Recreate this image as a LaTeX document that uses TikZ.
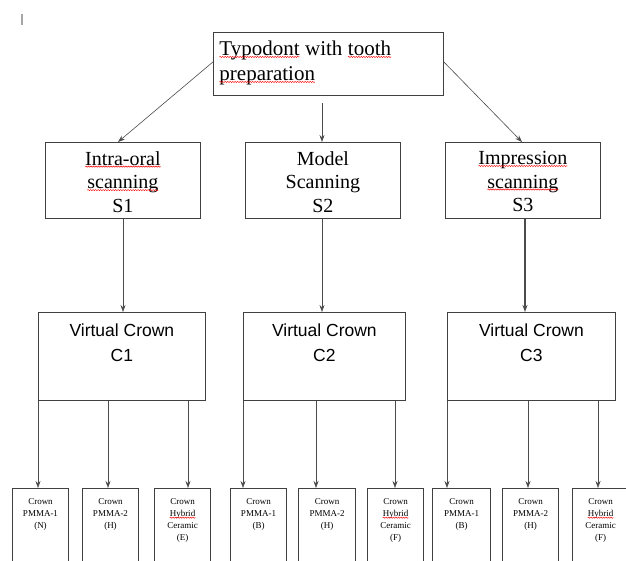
\documentclass[tikz,border=0pt]{standalone}
\usepackage{fontspec}
\setmainfont{Liberation Serif}
\newfontfamily\vcfont{Liberation Sans}
\usetikzlibrary{arrows.meta,decorations.pathmorphing}
\newcommand{\sq}[1]{\tikz[baseline=(sqw.base),x=1cm,y=1cm]{\node[inner sep=0pt,outer sep=0pt,draw=none,fill=none,minimum width=0pt,minimum height=0pt] (sqw) {#1};\draw[red,line width=0.5pt,decorate,decoration={snake,amplitude=0.6pt,segment length=2.5pt}] ([yshift=-1.2pt]sqw.base west) -- ([yshift=-1.2pt]sqw.base east);}}
\begin{document}
\begin{tikzpicture}[x=1pt,y=-1pt,
  box/.style={draw=black!75,line width=0.8pt,inner sep=0pt,fill=white},
  arr/.style={draw=black!70,line width=0.6pt,-{Stealth[length=7pt,width=5pt]}},
  big/.style={font=\fontsize{20}{23.5}\selectfont,align=center},
  vc/.style={font=\vcfont\fontsize{17.5}{25}\selectfont,align=center},
  small/.style={font=\fontsize{9}{12}\selectfont,align=center,anchor=north}]
\useasboundingbox[fill=white] (0,0) rectangle (626,560);
\draw[gray!70,line width=1.2pt] (22,14) -- (22,25);
% top box
\node[box,minimum width=230pt,minimum height=63pt,anchor=north west] (top) at (213,32) {};
\node[anchor=north west,font=\fontsize{21}{25}\selectfont,align=left,inner sep=0pt] (toptext) at (219,41) {\sq{Typodont} with \sq{tooth}\\\sq{preparation}};
% level 2
\node[box,minimum width=155pt,minimum height=76pt,anchor=north west] (s1) at (45,142) {};
\node[box,minimum width=155pt,minimum height=76pt,anchor=north west] (s2) at (245,142) {};
\node[box,minimum width=155pt,minimum height=76pt,anchor=north west] (s3) at (445,142) {};
\node[big,anchor=north] (s1t) at (s1.north) [yshift=-6pt] {\sq{Intra-oral}\\\sq{scanning}\\S1};
\node[big,anchor=north] (s2t) at (s2.north) [yshift=-6pt] {Model\\Scanning\\S2};
\node[big,anchor=north] (s3t) at (s3.north) [yshift=-6pt] {\sq{Impression}\\\sq{scanning}\\S3};
% level 3
\node[box,minimum width=167pt,minimum height=88pt,anchor=north west] (c1) at (38,312) {};
\node[box,minimum width=162pt,minimum height=88pt,anchor=north west] (c2) at (243,312) {};
\node[box,minimum width=168pt,minimum height=88pt,anchor=north west] (c3) at (447,312) {};
\node[vc,anchor=north] (c1t) at (c1.north) [yshift=-8pt] {Virtual Crown\\C1};
\node[vc,anchor=north] (c2t) at (c2.north) [yshift=-8pt] {Virtual Crown\\C2};
\node[vc,anchor=north] (c3t) at (c3.north) [yshift=-8pt] {Virtual Crown\\C3};
% arrows top -> level 2
\draw[arr] (top.west) ++(0,-2) coordinate (tw) -- (s1.north -| 118,0);
\coordinate (tb) at (322,103);
\draw[arr] (tb) -- (s2.north -| tb);
\draw[arr] (top.east) ++(0,-2) coordinate (te) -- (s3.north -| 522,0);
% level 2 -> level 3
\draw[arr] (s1.south -| 123,0) -- (c1.north -| 123,0);
\draw[arr] (s2.south -| 322,0) -- (c2.north -| 322,0);
\draw[arr,line width=1.1pt] (s3.south -| 525,0) -- (c3.north -| 525,0);
% bottom boxes
\foreach \n/\x/\w in {b1/12/56,b2/82/56,b3/154/56,b4/230/56,b5/298/57,b6/367/56,b7/432/58,b8/502/56,b9/572/56}{
  \node[box,line width=1pt,minimum width=\w pt,minimum height=80pt,anchor=north west] (\n) at (\x,488) {};
}
\node[small] (t1) at ([yshift=-7pt]b1.north) {Crown\\PMMA-1\\(N)};
\node[small] (t2) at ([yshift=-7pt]b2.north) {Crown\\PMMA-2\\(H)};
\node[small] (t3) at ([yshift=-7pt]b3.north) {Crown\\\sq{Hybrid}\\Ceramic\\(E)};
\node[small] (t4) at ([yshift=-7pt]b4.north) {Crown\\PMMA-1\\(B)};
\node[small] (t5) at ([yshift=-7pt]b5.north) {Crown\\PMMA-2\\(H)};
\node[small] (t6) at ([yshift=-7pt]b6.north) {Crown\\\sq{Hybrid}\\Ceramic\\(F)};
\node[small] (t7) at ([yshift=-7pt]b7.north) {Crown\\PMMA-1\\(B)};
\node[small] (t8) at ([yshift=-7pt]b8.north) {Crown\\PMMA-2\\(H)};
\node[small] (t9) at ([yshift=-7pt]b9.north) {Crown\\\sq{Hybrid}\\Ceramic\\(F)};
% level 3 -> bottom
\draw[arr] (c1.south west) -- (c1.south west |- b1.north);
\draw[arr] (c1.south -| 108,0) -- (b2.north -| 108,0);
\draw[arr] (c1.south -| 188,0) -- (b3.north -| 188,0);
\draw[arr] (c2.south west) -- (c2.south west |- b4.north);
\draw[arr] (c2.south -| 316,0) -- (b5.north -| 316,0);
\draw[arr] (c2.south -| 395,0) -- (b6.north -| 395,0);
\draw[arr] (c3.south west) -- (c3.south west |- b7.north);
\draw[arr] (c3.south -| 528,0) -- (b8.north -| 528,0);
\draw[arr] (c3.south -| 598,0) -- (b9.north -| 598,0);
\end{tikzpicture}
\end{document}
